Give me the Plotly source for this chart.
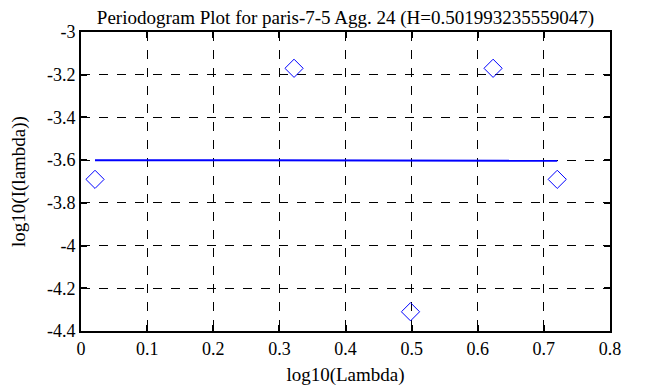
import plotly.graph_objects as go

log_lambda = [0.0212, 0.3222, 0.4983, 0.6232, 0.7202]
log_I = [-3.69, -3.17, -4.31, -3.17, -3.69]
fit_x = [0.0212, 0.7202]
fit_y = [-3.600, -3.603]

x_tick_vals = [0, 0.1, 0.2, 0.3, 0.4, 0.5, 0.6, 0.7, 0.8]
x_tick_text = ["0", "0.1", "0.2", "0.3", "0.4", "0.5", "0.6", "0.7", "0.8"]
y_tick_vals = [-4.4, -4.2, -4.0, -3.8, -3.6, -3.4, -3.2, -3.0]
y_tick_text = ["-4.4", "-4.2", "-4", "-3.8", "-3.6", "-3.4", "-3.2", "-3"]

fig = go.Figure()
fig.add_trace(go.Scatter(x=fit_x, y=fit_y, mode="lines",
                         line=dict(color="#0000ff", width=2), showlegend=False))
fig.add_trace(go.Scatter(x=log_lambda, y=log_I, mode="markers",
                         marker=dict(symbol="diamond-open", size=14, color="#0000ff",
                                     line=dict(width=1, color="#0000ff")),
                         showlegend=False))

fam = "Liberation Serif, Times New Roman, serif"
tick_font = dict(family=fam, size=18, color="black")
title_font = dict(family=fam, size=19, color="black")
axis_common = dict(showgrid=True, gridcolor="black", griddash="dash", gridwidth=1,
                   showline=True, linecolor="black", linewidth=2, mirror="ticks",
                   ticks="inside", ticklen=6, tickwidth=2, tickcolor="black",
                   zeroline=False, tickfont=tick_font, automargin=False)

# page body has an 8px default margin; compensate so the figure fills the 653x387 window
fig.update_layout(
    width=645, height=379,
    margin=dict(l=73, r=43, t=24, b=56),
    paper_bgcolor="white", plot_bgcolor="white",
    font=tick_font,
    title=dict(text="Periodogram Plot for paris-7-5 Agg. 24 (H=0.501993235559047)",
               xref="paper", x=0.5, xanchor="center", yref="container", y=0.993, yanchor="top",
               pad=dict(t=0), font=title_font),
    xaxis=dict(range=[0, 0.8], tickmode="array", tickvals=x_tick_vals, ticktext=x_tick_text,
               title=dict(text="log10(Lambda)", standoff=10, font=title_font), **axis_common),
    yaxis=dict(range=[-4.4, -3], tickmode="array", tickvals=y_tick_vals, ticktext=y_tick_text,
               title=dict(text="log10(I(lambda))", standoff=20, font=title_font), **axis_common),
)

fig.write_html("out.html")
